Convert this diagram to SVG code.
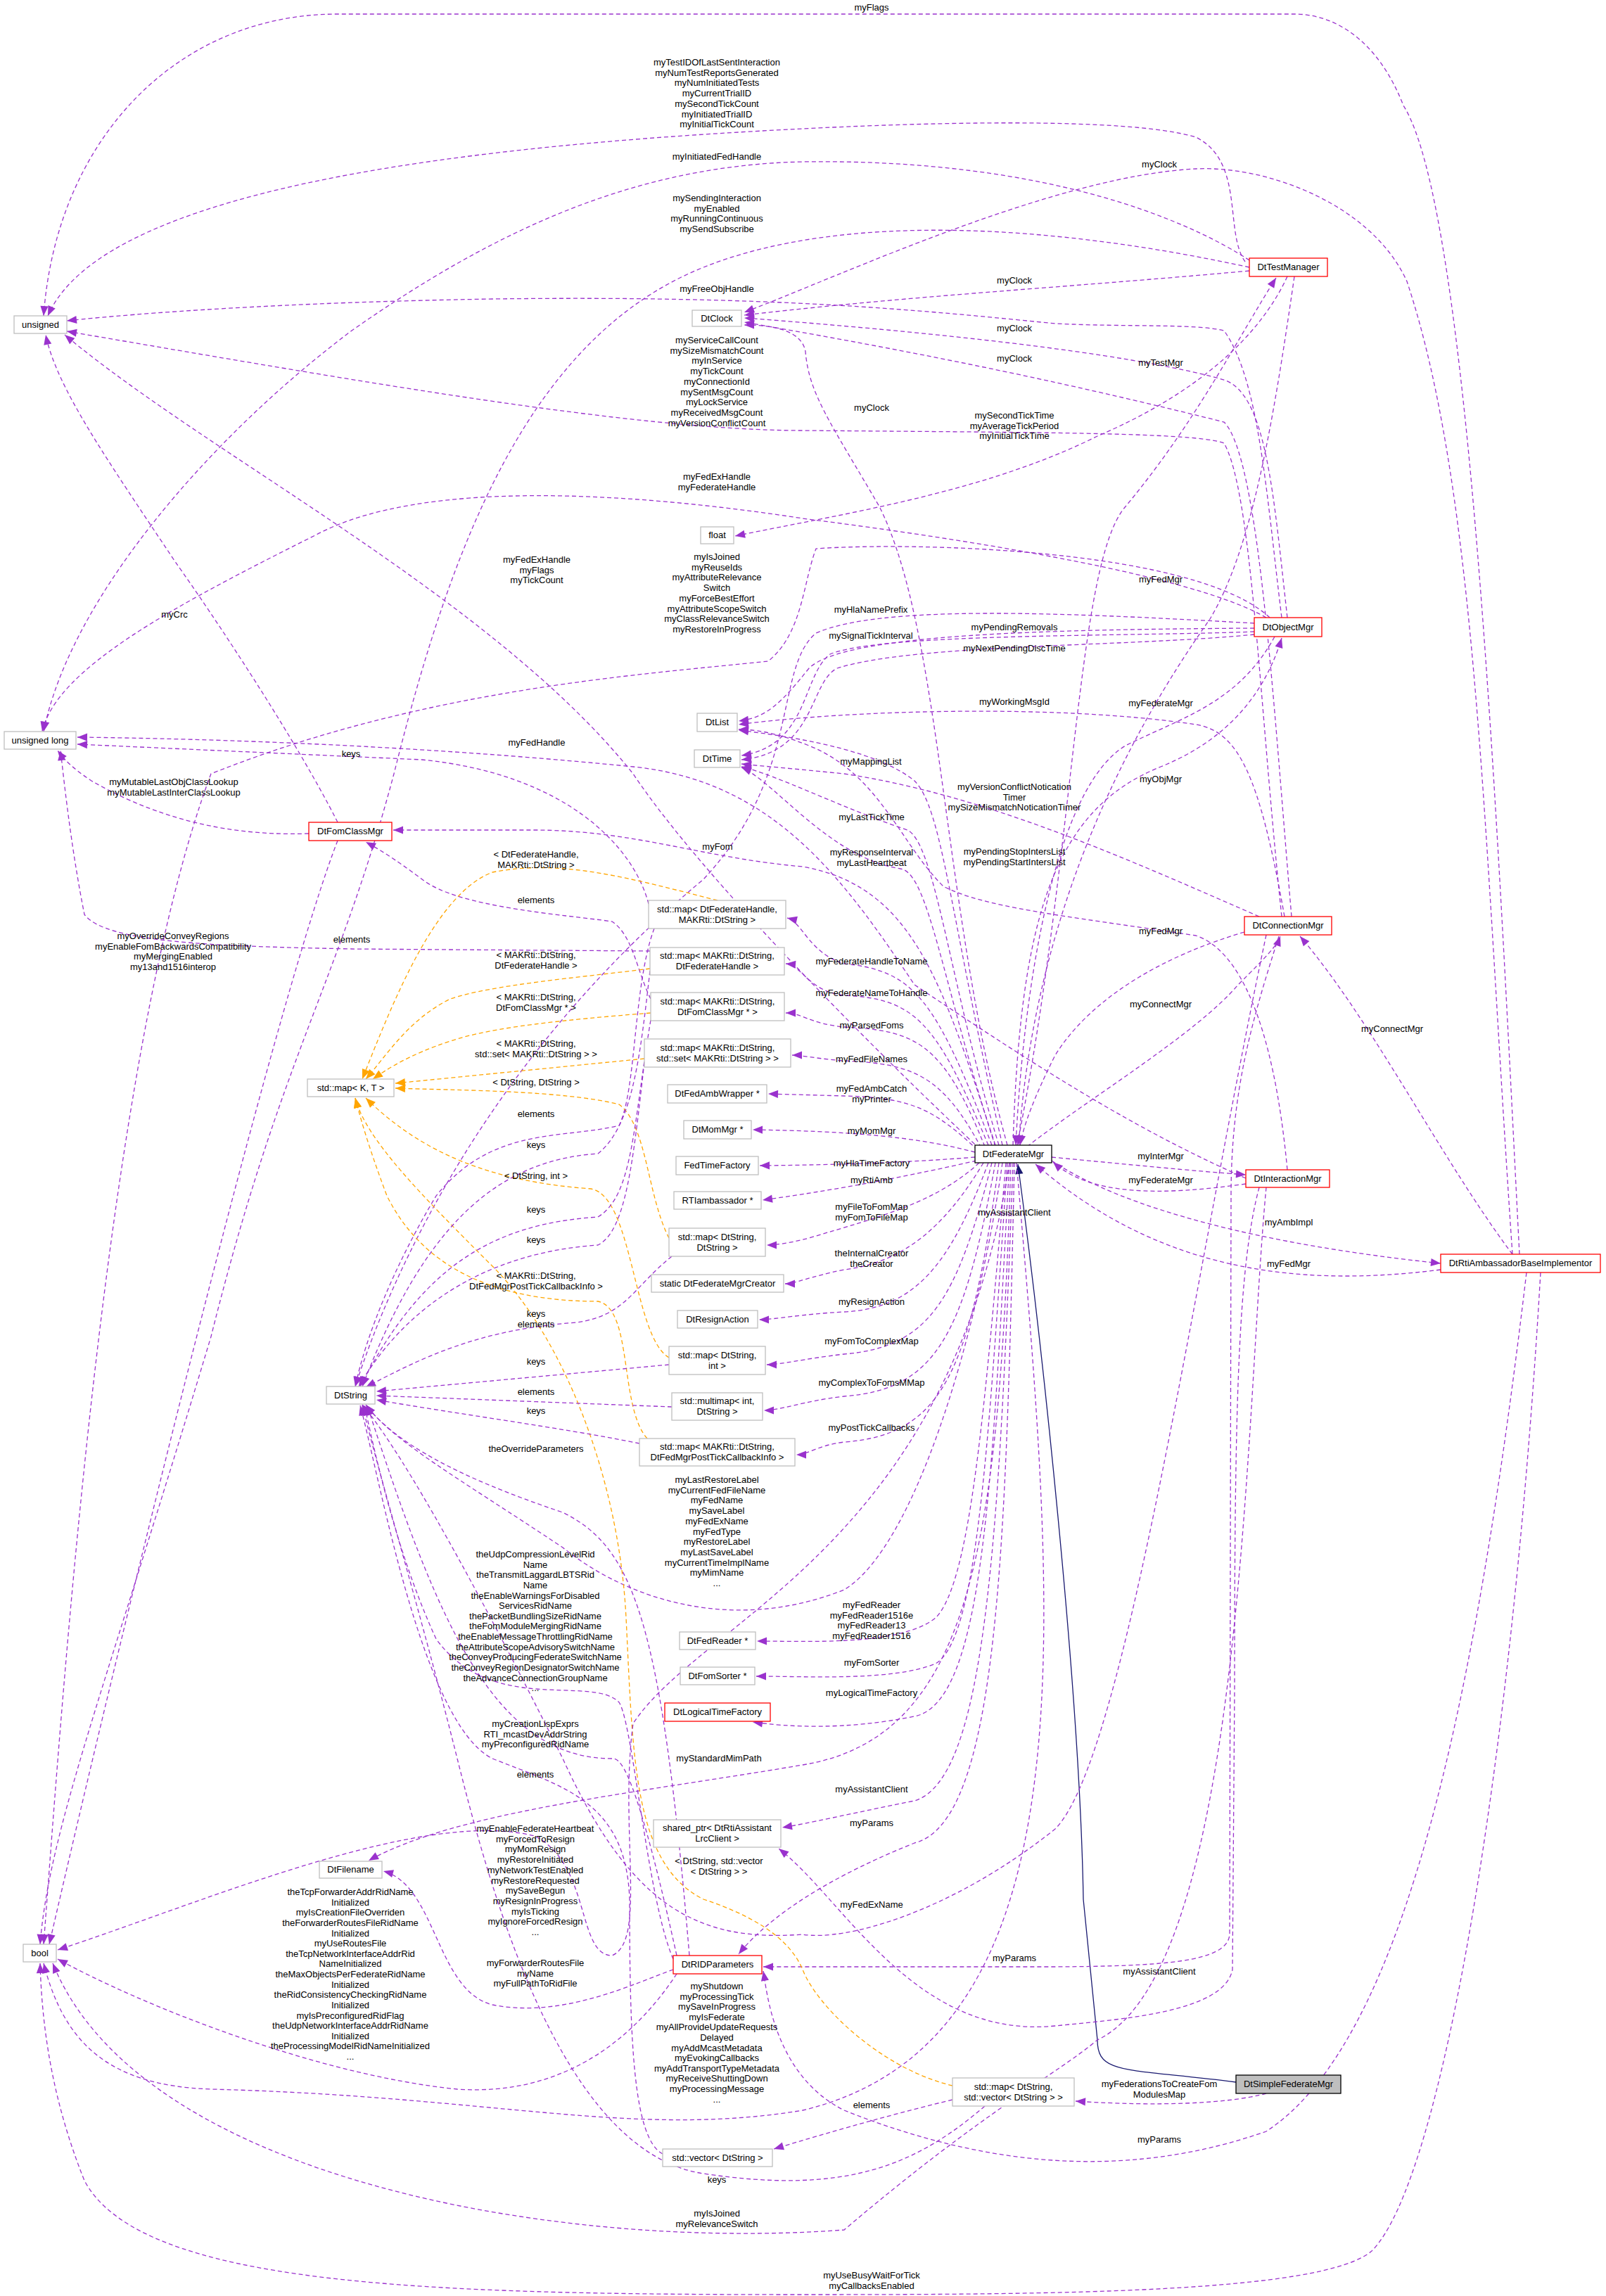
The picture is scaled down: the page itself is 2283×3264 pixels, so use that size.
<svg xmlns="http://www.w3.org/2000/svg" width="2283" height="3264" viewBox="0 0 2283 3264">
<style>
text{font-family:"Liberation Sans",Helvetica,Arial,sans-serif;font-size:13px;fill:#000;text-anchor:middle}
.g{fill:#fff;stroke:#bfbfbf;stroke-width:1.3}
.r{fill:#fff;stroke:#ff0000;stroke-width:1.3}
.k{fill:#fff;stroke:#000;stroke-width:1.3}
.s{fill:#bfbfbf;stroke:#000;stroke-width:1.3}
.e{fill:none;stroke:#9a32cd;stroke-width:1.3;stroke-dasharray:6,4;marker-end:url(#ap)}
.o{fill:none;stroke:#ffa500;stroke-width:1.3;stroke-dasharray:6,4;marker-end:url(#ao)}
.i{fill:none;stroke:#191970;stroke-width:1.3;marker-end:url(#ai)}
</style>
<defs>
<marker id="ap" viewBox="0 0 10 10" refX="10" refY="5" markerWidth="16" markerHeight="14" markerUnits="userSpaceOnUse" orient="auto"><path d="M0,1 L10,5 L0,9 z" fill="#9a32cd"/></marker>
<marker id="ao" viewBox="0 0 10 10" refX="10" refY="5" markerWidth="16" markerHeight="14" markerUnits="userSpaceOnUse" orient="auto"><path d="M0,1 L10,5 L0,9 z" fill="#ffa500"/></marker>
<marker id="ai" viewBox="0 0 10 10" refX="10" refY="5" markerWidth="16" markerHeight="14" markerUnits="userSpaceOnUse" orient="auto"><path d="M0,1 L10,5 L0,9 z" fill="#191970"/></marker>
</defs>
<rect width="2283" height="3264" fill="#fff"/>
<g id="edges">
<path class="e" d="M2160,1783 C2130,1200 2090,300 1995,150 C1960,60 1900,20 1840,20 L480,20 C250,20 80,200 62,449"/>
<path class="e" d="M1770,372 C1740,330 1770,230 1700,195 C1600,165 1300,175 1141,183 C700,205 150,260 68,449"/>
<path class="e" d="M1776,370 C1700,320 1500,225 1141,230 C900,235 700,330 500,470 C300,620 100,850 62,1040"/>
<path class="e" d="M1776,380 C1500,320 1200,300 1000,380 C750,480 640,780 560,1100 C480,1400 400,1500 300,1900 C150,2400 70,2600 57,2764"/>
<path class="e" d="M1822,878 C1800,700 1790,540 1740,470 C1700,460 1600,465 1500,460 C1300,440 1100,420 700,425 C400,430 200,445 95,456"/>
<path class="e" d="M1822,1303 C1790,1000 1780,700 1740,630 C1700,615 1500,615 1141,612 C900,612 500,540 95,471"/>
<path class="e" d="M2150,1783 C2110,1200 2100,700 2000,400 C1950,290 1800,235 1700,240 C1500,250 1200,390 1058,444"/>
<path class="e" d="M1776,385 C1500,410 1300,420 1058,448"/>
<path class="e" d="M1830,878 C1810,700 1800,560 1740,540 C1600,500 1300,470 1058,452"/>
<path class="e" d="M1836,1303 C1810,1000 1790,650 1740,600 C1500,540 1300,500 1058,458"/>
<path class="e" d="M1432,1628 C1340,1300 1340,900 1250,720 C1180,600 1150,560 1145,500 C1140,470 1100,462 1058,462"/>
<path class="e" d="M1446,1628 C1530,1200 1530,800 1600,720 C1700,600 1760,480 1814,395"/>
<path class="e" d="M1830,393 C1790,480 1700,560 1560,620 C1400,700 1200,730 1045,762"/>
<path class="e" d="M1840,393 C1810,600 1780,780 1720,880 C1600,1050 1470,1300 1448,1628"/>
<path class="e" d="M1783,886 C1500,870 1250,860 1160,900 C1100,950 1140,1100 1000,1250 C700,1500 560,1800 505,1971"/>
<path class="e" d="M1783,893 C1500,895 1200,900 1150,950 C1110,1000 1090,1020 1050,1025"/>
<path class="e" d="M1783,898 C1600,905 1250,900 1180,930 C1140,960 1150,1060 1054,1074"/>
<path class="e" d="M1783,902 C1600,920 1300,915 1190,950 C1150,970 1160,1070 1054,1080"/>
<path class="e" d="M1826,1303 C1790,1100 1760,1040 1700,1030 C1500,1000 1200,1010 1050,1030"/>
<path class="e" d="M1440,1628 C1450,1300 1500,1150 1650,1090 C1750,1050 1800,980 1822,907"/>
<path class="e" d="M1812,905 C1760,1000 1680,1020 1600,1060 C1500,1120 1455,1400 1444,1628"/>
<path class="e" d="M1425,1628 C1350,1300 1340,1150 1300,1110 C1250,1070 1150,1050 1050,1038"/>
<path class="e" d="M1790,1303 C1600,1220 1400,1130 1200,1100 C1100,1090 1070,1088 1054,1086"/>
<path class="e" d="M1420,1628 C1350,1400 1330,1200 1290,1180 C1200,1150 1100,1100 1054,1090"/>
<path class="e" d="M1415,1630 C1340,1400 1320,1240 1280,1235 C1180,1220 1100,1110 1054,1091"/>
<path class="e" d="M1830,1663 C1810,1450 1760,1350 1700,1330 C1500,1300 1400,1290 1341,1260 C1280,1200 1250,1100 1150,1060 C1100,1040 1070,1037 1050,1037"/>
<path class="e" d="M1769,1325 C1650,1360 1550,1420 1500,1500 C1470,1560 1455,1600 1450,1628"/>
<path class="e" d="M1460,1630 C1550,1560 1700,1470 1760,1400 C1800,1360 1815,1345 1820,1331"/>
<path class="e" d="M2150,1783 C2050,1650 1950,1450 1848,1331"/>
<path class="e" d="M1495,1645 C1600,1655 1700,1665 1771,1670"/>
<path class="e" d="M1771,1683 C1650,1700 1550,1700 1497,1652"/>
<path class="e" d="M1495,1650 C1600,1720 1800,1770 2048,1796"/>
<path class="e" d="M2048,1805 C1850,1830 1650,1810 1472,1655"/>
<path class="i" d="M1757,2960 C1600,2940 1560,2950 1560,2900 L1540,2700 C1535,2400 1480,1900 1447,1655"/>
<path class="e" d="M1410,1628 C1330,1420 1300,1380 1200,1370 C1150,1355 1140,1310 1119,1305"/>
<path class="e" d="M1405,1628 C1330,1450 1300,1420 1200,1415 C1150,1410 1140,1372 1117,1370"/>
<path class="e" d="M1400,1630 C1340,1480 1300,1465 1200,1460 C1150,1455 1140,1440 1117,1440"/>
<path class="e" d="M1395,1632 C1340,1530 1300,1512 1200,1508 C1160,1505 1140,1500 1126,1500"/>
<path class="e" d="M1390,1635 C1330,1580 1300,1560 1200,1558 L1092,1555"/>
<path class="e" d="M1386,1638 C1300,1615 1200,1608 1070,1606"/>
<path class="e" d="M1386,1645 C1300,1652 1200,1656 1080,1657"/>
<path class="e" d="M1388,1650 C1300,1670 1200,1690 1084,1706"/>
<path class="e" d="M1392,1653 C1330,1710 1250,1730 1150,1760 C1120,1768 1100,1770 1090,1770"/>
<path class="e" d="M1398,1653 C1340,1750 1280,1795 1200,1805 C1150,1815 1130,1825 1116,1825"/>
<path class="e" d="M1405,1653 C1350,1800 1300,1860 1200,1865 C1140,1868 1100,1876 1079,1876"/>
<path class="e" d="M1410,1653 C1360,1850 1320,1915 1200,1925 C1140,1932 1110,1940 1090,1940"/>
<path class="e" d="M1415,1653 C1370,1900 1330,1975 1200,1985 C1140,1992 1110,2005 1086,2005"/>
<path class="e" d="M1420,1653 C1380,1950 1340,2040 1200,2050 C1160,2055 1150,2068 1132,2068"/>
<path class="e" d="M1425,1653 C1390,1900 1300,2200 1200,2260 C1050,2320 900,2280 800,2200 C650,2100 560,2050 520,1997"/>
<path class="e" d="M1430,1653 C1400,2000 1380,2250 1330,2300 C1280,2340 1150,2333 1076,2333"/>
<path class="e" d="M1432,1653 C1405,2050 1390,2330 1330,2365 C1270,2390 1150,2383 1075,2383"/>
<path class="e" d="M1435,1653 C1410,2100 1400,2420 1300,2440 C1200,2460 1120,2455 1070,2448"/>
<path class="e" d="M1437,1653 C1420,2200 1380,2470 1141,2509 C900,2550 650,2575 524,2645"/>
<path class="e" d="M1440,1653 C1420,2200 1400,2530 1300,2560 C1200,2580 1150,2592 1112,2598"/>
<path class="e" d="M1442,1653 C1430,2200 1420,2590 1300,2620 C1150,2680 1080,2740 1050,2778"/>
<path class="e" d="M1800,1329 C1700,1800 1600,2500 1500,2600 C1350,2720 1200,2760 1141,2750 C1000,2760 900,2720 800,2500 C650,2200 560,2050 515,1997"/>
<path class="e" d="M1818,1331 C1780,1450 1750,1550 1750,1700 L1748,2750 C1745,2790 1650,2795 1500,2796 L1085,2796"/>
<path class="e" d="M1790,1688 C1760,1800 1755,2000 1755,2400 L1752,2800 C1740,2860 1600,2870 1500,2880 C1300,2900 1200,2700 1107,2628"/>
<path class="e" d="M1800,2976 C1750,2990 1650,2995 1529,2987"/>
<path class="e" d="M1354,2985 C1250,3010 1150,3040 1100,3055"/>
<path class="o" d="M1354,2965 C1250,2940 1160,2850 1141,2800 C1120,2750 1060,2720 1000,2700 C900,2650 900,2500 890,2300 C880,2100 800,1900 700,1800 C600,1700 520,1620 505,1561"/>
<path class="e" d="M2170,1809 C2100,2400 2000,2900 1800,3030 C1600,3100 1400,3080 1200,3000 C1100,2950 1090,2830 1085,2802"/>
<path class="e" d="M2190,1809 C2150,2500 2050,3100 1950,3200 C1880,3260 1500,3262 1141,3262 C600,3262 200,3250 120,3100 C80,3000 60,2900 57,2791"/>
<path class="e" d="M1800,1688 C1770,2000 1770,2800 1560,2900 C1500,2950 1400,3000 1200,3170 C800,3200 200,3100 75,2791"/>
<path class="e" d="M1400,2994 C1300,3080 1200,3120 1000,3090 C800,3060 700,2700 650,2500 C600,2300 540,2100 515,1998"/>
<path class="e" d="M942,3062 C900,3040 895,2900 895,2700 C890,2560 800,2540 700,2500 C600,2450 540,2100 512,1998"/>
<path class="e" d="M957,2785 C920,2700 900,2450 880,2420 C840,2380 700,2440 620,2330 C560,2200 530,2050 518,1998"/>
<path class="e" d="M962,2780 C900,2500 880,2500 870,2500 C700,2500 620,2300 522,1998"/>
<path class="e" d="M957,2800 C900,2820 800,2870 700,2850 C620,2830 620,2680 545,2660"/>
<path class="e" d="M962,2806 C900,2900 800,2980 650,2970 C450,2950 200,2850 82,2785"/>
<path class="e" d="M1435,1653 C1350,2200 1000,2300 900,2450 C880,2600 920,2760 870,2780 C820,2780 840,2650 760,2610 C600,2570 300,2700 82,2772"/>
<path class="e" d="M1445,1653 C1500,2300 1560,2900 1141,3000 C900,3040 700,2980 300,2970 C150,2965 90,2900 62,2791"/>
<path class="e" d="M1415,1628 C1340,1400 1300,1260 1141,1232 C1000,1220 900,1180 760,1180 L559,1180"/>
<path class="e" d="M480,1169 C420,1050 300,870 250,800 C150,650 80,550 65,476"/>
<path class="e" d="M439,1185 C300,1190 200,1150 130,1110 C100,1090 90,1078 82,1067"/>
<path class="e" d="M480,1195 C400,1400 200,2200 70,2764"/>
<path class="e" d="M924,1352 L500,1349 C300,1345 150,1340 120,1300 C100,1200 90,1100 86,1067"/>
<path class="e" d="M922,1285 C900,1200 800,1100 600,1080 L110,1058"/>
<path class="e" d="M925,1420 C905,1380 900,1330 870,1310 C800,1300 650,1290 600,1250 C560,1220 535,1205 520,1197"/>
<path class="e" d="M930,1320 C900,1400 905,1550 880,1600 C800,1620 700,1600 620,1700 C560,1800 520,1900 505,1971"/>
<path class="o" d="M1020,1280 C900,1250 800,1220 700,1240 C620,1270 560,1420 515,1534"/>
<path class="o" d="M924,1377 C820,1390 700,1400 640,1420 C580,1450 550,1500 520,1534"/>
<path class="o" d="M925,1440 C800,1450 700,1460 640,1480 C580,1500 550,1520 530,1534"/>
<path class="o" d="M916,1505 L562,1540"/>
<path class="o" d="M951,1760 C920,1700 920,1600 880,1570 C800,1550 650,1550 562,1547"/>
<path class="o" d="M951,1930 C900,1900 900,1700 840,1690 C700,1680 600,1640 520,1561"/>
<path class="o" d="M920,2045 C880,2000 900,1860 850,1850 C700,1850 600,1800 550,1700 C520,1620 510,1580 505,1561"/>
<path class="e" d="M924,1380 C910,1500 900,1600 850,1640 C700,1650 600,1750 515,1971"/>
<path class="e" d="M925,1450 C900,1600 900,1700 850,1730 C700,1740 600,1800 512,1971"/>
<path class="e" d="M916,1510 C900,1650 890,1750 850,1770 C700,1780 580,1850 510,1971"/>
<path class="e" d="M955,1786 C900,1830 890,1870 820,1880 C680,1890 600,1930 520,1972"/>
<path class="e" d="M951,1940 L535,1978"/>
<path class="e" d="M955,2000 L535,1984"/>
<path class="e" d="M909,2052 C800,2030 650,2010 535,1990"/>
<path class="e" d="M980,2780 C940,2300 900,2200 800,2150 C650,2100 560,2050 520,1997"/>
<path class="e" d="M1800,878 C1700,820 1400,770 1141,737 C900,700 600,680 450,760 C250,860 80,950 60,1040"/>
<path class="e" d="M1400,1640 C1250,1500 1000,1250 900,1100 C700,850 300,650 92,476"/>
<path class="e" d="M1805,878 C1700,780 1300,770 1160,780 C1141,830 1141,900 1092,940 C900,960 600,980 300,1100 C150,1500 90,2400 62,2764"/>
<path class="e" d="M1771,1675 C1600,1600 1450,1500 1300,1400 C1200,1250 1100,1110 900,1090 C600,1060 300,1050 110,1048"/>
</g>
<g id="labels">
<text x="1239" y="15">myFlags</text>
<text x="1019" y="93">myTestIDOfLastSentInteraction<tspan x="1019" dy="14.7">myNumTestReportsGenerated</tspan><tspan x="1019" dy="14.7">myNumInitiatedTests</tspan><tspan x="1019" dy="14.7">myCurrentTrialID</tspan><tspan x="1019" dy="14.7">mySecondTickCount</tspan><tspan x="1019" dy="14.7">myInitiatedTrialID</tspan><tspan x="1019" dy="14.7">myInitialTickCount</tspan></text>
<text x="1019" y="227">myInitiatedFedHandle</text>
<text x="1019" y="286">mySendingInteraction<tspan x="1019" dy="14.7">myEnabled</tspan><tspan x="1019" dy="14.7">myRunningContinuous</tspan><tspan x="1019" dy="14.7">mySendSubscribe</tspan></text>
<text x="1019" y="415">myFreeObjHandle</text>
<text x="1019" y="488">myServiceCallCount<tspan x="1019" dy="14.7">mySizeMismatchCount</tspan><tspan x="1019" dy="14.7">myInService</tspan><tspan x="1019" dy="14.7">myTickCount</tspan><tspan x="1019" dy="14.7">myConnectionId</tspan><tspan x="1019" dy="14.7">mySentMsgCount</tspan><tspan x="1019" dy="14.7">myLockService</tspan><tspan x="1019" dy="14.7">myReceivedMsgCount</tspan><tspan x="1019" dy="14.7">myVersionConflictCount</tspan></text>
<text x="1019" y="682">myFedExHandle<tspan x="1019" dy="14.7">myFederateHandle</tspan></text>
<text x="1019" y="796">myIsJoined<tspan x="1019" dy="14.7">myReuseIds</tspan><tspan x="1019" dy="14.7">myAttributeRelevance</tspan><tspan x="1019" dy="14.7">Switch</tspan><tspan x="1019" dy="14.7">myForceBestEffort</tspan><tspan x="1019" dy="14.7">myAttributeScopeSwitch</tspan><tspan x="1019" dy="14.7">myClassRelevanceSwitch</tspan><tspan x="1019" dy="14.7">myRestoreInProgress</tspan></text>
<text x="763" y="800">myFedExHandle<tspan x="763" dy="14.7">myFlags</tspan><tspan x="763" dy="14.7">myTickCount</tspan></text>
<text x="248" y="878">myCrc</text>
<text x="763" y="1060">myFedHandle</text>
<text x="499" y="1076">keys</text>
<text x="1648" y="238">myClock</text>
<text x="1442" y="403">myClock</text>
<text x="1442" y="471">myClock</text>
<text x="1442" y="514">myClock</text>
<text x="1650" y="520">myTestMgr</text>
<text x="1239" y="584">myClock</text>
<text x="1442" y="595">mySecondTickTime<tspan x="1442" dy="14.7">myAverageTickPeriod</tspan><tspan x="1442" dy="14.7">myInitialTickTime</tspan></text>
<text x="1650" y="828">myFedMgr</text>
<text x="1238" y="871">myHlaNamePrefix</text>
<text x="1442" y="896">myPendingRemovals</text>
<text x="1238" y="908">mySignalTickInterval</text>
<text x="1442" y="926">myNextPendingDiscTime</text>
<text x="1442" y="1002">myWorkingMsgId</text>
<text x="1650" y="1004">myFederateMgr</text>
<text x="1238" y="1087">myMappingList</text>
<text x="247" y="1116">myMutableLastObjClassLookup<tspan x="247" dy="14.7">myMutableLastInterClassLookup</tspan></text>
<text x="1020" y="1208">myFom</text>
<text x="762" y="1219">&lt; DtFederateHandle,<tspan x="762" dy="14.7">MAKRti::DtString &gt;</tspan></text>
<text x="762" y="1284">elements</text>
<text x="246" y="1335">myOverrideConveyRegions<tspan x="246" dy="14.7">myEnableFomBackwardsCompatibility</tspan><tspan x="246" dy="14.7">myMergingEnabled</tspan><tspan x="246" dy="14.7">my13and1516interop</tspan></text>
<text x="500" y="1340">elements</text>
<text x="762" y="1362">&lt; MAKRti::DtString,<tspan x="762" dy="14.7">DtFederateHandle &gt;</tspan></text>
<text x="762" y="1422">&lt; MAKRti::DtString,<tspan x="762" dy="14.7">DtFomClassMgr * &gt;</tspan></text>
<text x="762" y="1488">&lt; MAKRti::DtString,<tspan x="762" dy="14.7">std::set&lt; MAKRti::DtString &gt; &gt;</tspan></text>
<text x="762" y="1543">&lt; DtString, DtString &gt;</text>
<text x="762" y="1588">elements</text>
<text x="762" y="1632">keys</text>
<text x="762" y="1676">&lt; DtString, int &gt;</text>
<text x="762" y="1724">keys</text>
<text x="762" y="1767">keys</text>
<text x="762" y="1818">&lt; MAKRti::DtString,<tspan x="762" dy="14.7">DtFedMgrPostTickCallbackInfo &gt;</tspan></text>
<text x="762" y="1872">keys<tspan x="762" dy="14.7">elements</tspan></text>
<text x="762" y="1940">keys</text>
<text x="762" y="1983">elements</text>
<text x="762" y="2010">keys</text>
<text x="762" y="2064">theOverrideParameters</text>
<text x="1019" y="2108">myLastRestoreLabel<tspan x="1019" dy="14.7">myCurrentFedFileName</tspan><tspan x="1019" dy="14.7">myFedName</tspan><tspan x="1019" dy="14.7">mySaveLabel</tspan><tspan x="1019" dy="14.7">myFedExName</tspan><tspan x="1019" dy="14.7">myFedType</tspan><tspan x="1019" dy="14.7">myRestoreLabel</tspan><tspan x="1019" dy="14.7">myLastSaveLabel</tspan><tspan x="1019" dy="14.7">myCurrentTimeImplName</tspan><tspan x="1019" dy="14.7">myMimName</tspan><tspan x="1019" dy="14.7">...</tspan></text>
<text x="1442" y="1123">myVersionConflictNotication<tspan x="1442" dy="14.7">Timer</tspan><tspan x="1442" dy="14.7">mySizeMismatchNoticationTimer</tspan></text>
<text x="1650" y="1112">myObjMgr</text>
<text x="1239" y="1166">myLastTickTime</text>
<text x="1239" y="1216">myResponseInterval<tspan x="1239" dy="14.7">myLastHeartbeat</tspan></text>
<text x="1442" y="1215">myPendingStopIntersList<tspan x="1442" dy="14.7">myPendingStartIntersList</tspan></text>
<text x="1650" y="1328">myFedMgr</text>
<text x="1239" y="1371">myFederateHandleToName</text>
<text x="1239" y="1416">myFederateNameToHandle</text>
<text x="1650" y="1432">myConnectMgr</text>
<text x="1239" y="1462">myParsedFoms</text>
<text x="1979" y="1467">myConnectMgr</text>
<text x="1239" y="1510">myFedFileNames</text>
<text x="1239" y="1552">myFedAmbCatch<tspan x="1239" dy="14.7">myPrinter</tspan></text>
<text x="1239" y="1612">myMomMgr</text>
<text x="1650" y="1648">myInterMgr</text>
<text x="1239" y="1658">myHlaTimeFactory</text>
<text x="1239" y="1682">myRtiAmb</text>
<text x="1650" y="1682">myFederateMgr</text>
<text x="1239" y="1720">myFileToFomMap<tspan x="1239" dy="14.7">myFomToFileMap</tspan></text>
<text x="1442" y="1728">myAssistantClient</text>
<text x="1832" y="1742">myAmbImpl</text>
<text x="1239" y="1786">theInternalCreator<tspan x="1239" dy="14.7">theCreator</tspan></text>
<text x="1832" y="1801">myFedMgr</text>
<text x="1239" y="1855">myResignAction</text>
<text x="1239" y="1911">myFomToComplexMap</text>
<text x="1239" y="1970">myComplexToFomsMMap</text>
<text x="1239" y="2034">myPostTickCallbacks</text>
<text x="761" y="2214">theUdpCompressionLevelRid<tspan x="761" dy="14.63">Name</tspan><tspan x="761" dy="14.63">theTransmitLaggardLBTSRid</tspan><tspan x="761" dy="14.63">Name</tspan><tspan x="761" dy="14.63">theEnableWarningsForDisabled</tspan><tspan x="761" dy="14.63">ServicesRidName</tspan><tspan x="761" dy="14.63">thePacketBundlingSizeRidName</tspan><tspan x="761" dy="14.63">theFomModuleMergingRidName</tspan><tspan x="761" dy="14.63">theEnableMessageThrottlingRidName</tspan><tspan x="761" dy="14.63">theAttributeScopeAdvisorySwitchName</tspan><tspan x="761" dy="14.63">theConveyProducingFederateSwitchName</tspan><tspan x="761" dy="14.63">theConveyRegionDesignatorSwitchName</tspan><tspan x="761" dy="14.63">theAdvanceConnectionGroupName</tspan><tspan x="761" dy="14.63">...</tspan></text>
<text x="761" y="2455">myCreationLispExprs<tspan x="761" dy="14.7">RTI_mcastDevAddrString</tspan><tspan x="761" dy="14.7">myPreconfiguredRidName</tspan></text>
<text x="1022" y="2504">myStandardMimPath</text>
<text x="761" y="2527">elements</text>
<text x="761" y="2604">myEnableFederateHeartbeat<tspan x="761" dy="14.7">myForcedToResign</tspan><tspan x="761" dy="14.7">myMomResign</tspan><tspan x="761" dy="14.7">myRestoreInitiated</tspan><tspan x="761" dy="14.7">myNetworkTestEnabled</tspan><tspan x="761" dy="14.7">myRestoreRequested</tspan><tspan x="761" dy="14.7">mySaveBegun</tspan><tspan x="761" dy="14.7">myResignInProgress</tspan><tspan x="761" dy="14.7">myIsTicking</tspan><tspan x="761" dy="14.7">myIgnoreForcedResign</tspan><tspan x="761" dy="14.7">...</tspan></text>
<text x="1022" y="2650">&lt; DtString, std::vector<tspan x="1022" dy="14.7">&lt; DtString &gt; &gt;</tspan></text>
<text x="498" y="2694">theTcpForwarderAddrRidName<tspan x="498" dy="14.63">Initialized</tspan><tspan x="498" dy="14.63">myIsCreationFileOverriden</tspan><tspan x="498" dy="14.63">theForwarderRoutesFileRidName</tspan><tspan x="498" dy="14.63">Initialized</tspan><tspan x="498" dy="14.63">myUseRoutesFile</tspan><tspan x="498" dy="14.63">theTcpNetworkInterfaceAddrRid</tspan><tspan x="498" dy="14.63">NameInitialized</tspan><tspan x="498" dy="14.63">theMaxObjectsPerFederateRidName</tspan><tspan x="498" dy="14.63">Initialized</tspan><tspan x="498" dy="14.63">theRidConsistencyCheckingRidName</tspan><tspan x="498" dy="14.63">Initialized</tspan><tspan x="498" dy="14.63">myIsPreconfiguredRidFlag</tspan><tspan x="498" dy="14.63">theUdpNetworkInterfaceAddrRidName</tspan><tspan x="498" dy="14.63">Initialized</tspan><tspan x="498" dy="14.63">theProcessingModelRidNameInitialized</tspan><tspan x="498" dy="14.63">...</tspan></text>
<text x="761" y="2795">myForwarderRoutesFile<tspan x="761" dy="14.7">myName</tspan><tspan x="761" dy="14.7">myFullPathToRidFile</tspan></text>
<text x="1019" y="2828">myShutdown<tspan x="1019" dy="14.6">myProcessingTick</tspan><tspan x="1019" dy="14.6">mySaveInProgress</tspan><tspan x="1019" dy="14.6">myIsFederate</tspan><tspan x="1019" dy="14.6">myAllProvideUpdateRequests</tspan><tspan x="1019" dy="14.6">Delayed</tspan><tspan x="1019" dy="14.6">myAddMcastMetadata</tspan><tspan x="1019" dy="14.6">myEvokingCallbacks</tspan><tspan x="1019" dy="14.6">myAddTransportTypeMetadata</tspan><tspan x="1019" dy="14.6">myReceiveShuttingDown</tspan><tspan x="1019" dy="14.6">myProcessingMessage</tspan><tspan x="1019" dy="14.6">...</tspan></text>
<text x="1019" y="3103">keys</text>
<text x="1019" y="3151">myIsJoined<tspan x="1019" dy="14.7">myRelevanceSwitch</tspan></text>
<text x="1239" y="2286">myFedReader<tspan x="1239" dy="14.7">myFedReader1516e</tspan><tspan x="1239" dy="14.7">myFedReader13</tspan><tspan x="1239" dy="14.7">myFedReader1516</tspan></text>
<text x="1239" y="2368">myFomSorter</text>
<text x="1239" y="2411">myLogicalTimeFactory</text>
<text x="1239" y="2548">myAssistantClient</text>
<text x="1239" y="2596">myParams</text>
<text x="1239" y="2712">myFedExName</text>
<text x="1442" y="2788">myParams</text>
<text x="1648" y="2807">myAssistantClient</text>
<text x="1648" y="2967">myFederationsToCreateFom<tspan x="1648" dy="14.7">ModulesMap</tspan></text>
<text x="1239" y="2997">elements</text>
<text x="1648" y="3046">myParams</text>
<text x="1239" y="3239">myUseBusyWaitForTick<tspan x="1239" dy="14.7">myCallbacksEnabled</tspan></text>
</g>
<g id="n_unsigned"><rect class="g" x="20" y="449" width="75" height="25"/><text x="57.5" y="466">unsigned</text></g>
<g id="n_dtclock"><rect class="g" x="984" y="441" width="70" height="23"/><text x="1019" y="457">DtClock</text></g>
<g id="n_float"><rect class="g" x="996" y="749" width="47" height="24"/><text x="1019.5" y="765">float</text></g>
<g id="n_dtlist"><rect class="g" x="991" y="1014" width="57" height="26"/><text x="1019.5" y="1031">DtList</text></g>
<g id="n_dttime"><rect class="g" x="987" y="1066" width="65" height="25"/><text x="1019.5" y="1083">DtTime</text></g>
<g id="n_ulong"><rect class="g" x="6" y="1040" width="102" height="25"/><text x="57" y="1057">unsigned long</text></g>
<g id="n_testmgr"><rect class="r" x="1776" y="367" width="111" height="26"/><text x="1831.5" y="384">DtTestManager</text></g>
<g id="n_objmgr"><rect class="r" x="1783" y="878" width="96" height="27"/><text x="1831" y="896">DtObjectMgr</text></g>
<g id="n_fomclassmgr"><rect class="r" x="439" y="1169" width="118" height="26"/><text x="498" y="1186">DtFomClassMgr</text></g>
<g id="n_mapkt"><rect class="g" x="437" y="1534" width="123" height="25"/><text x="498.5" y="1551">std::map&lt; K, T &gt;</text></g>
<g id="n_dtstring"><rect class="g" x="464" y="1971" width="69" height="25"/><text x="498.5" y="1988">DtString</text></g>
<g id="n_mapA"><rect class="g" x="922" y="1280" width="195" height="40"/><text x="1019.5" y="1297">std::map&lt; DtFederateHandle,</text><text x="1019.5" y="1312">MAKRti::DtString &gt;</text></g>
<g id="n_mapB"><rect class="g" x="924" y="1347" width="191" height="39"/><text x="1019.5" y="1363">std::map&lt; MAKRti::DtString,</text><text x="1019.5" y="1378">DtFederateHandle &gt;</text></g>
<g id="n_mapC"><rect class="g" x="925" y="1411" width="190" height="40"/><text x="1020" y="1428">std::map&lt; MAKRti::DtString,</text><text x="1020" y="1443">DtFomClassMgr * &gt;</text></g>
<g id="n_mapD"><rect class="g" x="916" y="1477" width="208" height="40"/><text x="1020" y="1494">std::map&lt; MAKRti::DtString,</text><text x="1020" y="1509">std::set&lt; MAKRti::DtString &gt; &gt;</text></g>
<g id="n_fedamb"><rect class="g" x="949" y="1542" width="141" height="26"/><text x="1019.5" y="1559">DtFedAmbWrapper *</text></g>
<g id="n_mommgr"><rect class="g" x="972" y="1593" width="96" height="26"/><text x="1020" y="1610">DtMomMgr *</text></g>
<g id="n_fedtime"><rect class="g" x="961" y="1644" width="117" height="26"/><text x="1019.5" y="1661">FedTimeFactory</text></g>
<g id="n_rtiamb"><rect class="g" x="958" y="1694" width="124" height="25"/><text x="1020" y="1711">RTIambassador *</text></g>
<g id="n_mapE"><rect class="g" x="951" y="1746" width="137" height="40"/><text x="1019.5" y="1763">std::map&lt; DtString,</text><text x="1019.5" y="1778">DtString &gt;</text></g>
<g id="n_creator"><rect class="g" x="926" y="1812" width="188" height="25"/><text x="1020" y="1829">static DtFederateMgrCreator</text></g>
<g id="n_resign"><rect class="g" x="963" y="1863" width="114" height="25"/><text x="1020" y="1880">DtResignAction</text></g>
<g id="n_mapF"><rect class="g" x="951" y="1914" width="137" height="40"/><text x="1019.5" y="1931">std::map&lt; DtString,</text><text x="1019.5" y="1946">int &gt;</text></g>
<g id="n_multimap"><rect class="g" x="955" y="1980" width="129" height="39"/><text x="1019.5" y="1996">std::multimap&lt; int,</text><text x="1019.5" y="2011">DtString &gt;</text></g>
<g id="n_mapG"><rect class="g" x="909" y="2045" width="221" height="39"/><text x="1019.5" y="2061">std::map&lt; MAKRti::DtString,</text><text x="1019.5" y="2076">DtFedMgrPostTickCallbackInfo &gt;</text></g>
<g id="n_connmgr"><rect class="r" x="1769" y="1303" width="124" height="26"/><text x="1831" y="1320">DtConnectionMgr</text></g>
<g id="n_fedmgr"><rect class="k" x="1386" y="1628" width="109" height="25"/><text x="1440.5" y="1645">DtFederateMgr</text></g>
<g id="n_intermgr"><rect class="r" x="1771" y="1663" width="119" height="25"/><text x="1830.5" y="1680">DtInteractionMgr</text></g>
<g id="n_rtiambbase"><rect class="r" x="2048" y="1783" width="227" height="26"/><text x="2161.5" y="1800">DtRtiAmbassadorBaseImplementor</text></g>
<g id="n_fedreader"><rect class="g" x="966" y="2320" width="108" height="25"/><text x="1020" y="2337">DtFedReader *</text></g>
<g id="n_fomsorter"><rect class="g" x="967" y="2370" width="106" height="25"/><text x="1020" y="2387">DtFomSorter *</text></g>
<g id="n_logtime"><rect class="r" x="945" y="2421" width="150" height="26"/><text x="1020" y="2438">DtLogicalTimeFactory</text></g>
<g id="n_sharedptr"><rect class="g" x="929" y="2587" width="181" height="39"/><text x="1019.5" y="2603">shared_ptr&lt; DtRtiAssistant</text><text x="1019.5" y="2618">LrcClient &gt;</text></g>
<g id="n_filename"><rect class="g" x="454" y="2646" width="89" height="24"/><text x="498.5" y="2662">DtFilename</text></g>
<g id="n_bool"><rect class="g" x="33" y="2764" width="47" height="25"/><text x="56.5" y="2781">bool</text></g>
<g id="n_ridparams"><rect class="r" x="957" y="2780" width="126" height="26"/><text x="1020" y="2797">DtRIDParameters</text></g>
<g id="n_vector"><rect class="g" x="942" y="3055" width="156" height="25"/><text x="1020" y="3072">std::vector&lt; DtString &gt;</text></g>
<g id="n_mapH"><rect class="g" x="1354" y="2954" width="173" height="40"/><text x="1440.5" y="2971">std::map&lt; DtString,</text><text x="1440.5" y="2986">std::vector&lt; DtString &gt; &gt;</text></g>
<g id="n_simplefedmgr"><rect class="s" x="1757" y="2950" width="149" height="26"/><text x="1831.5" y="2967">DtSimpleFederateMgr</text></g>
</svg>
